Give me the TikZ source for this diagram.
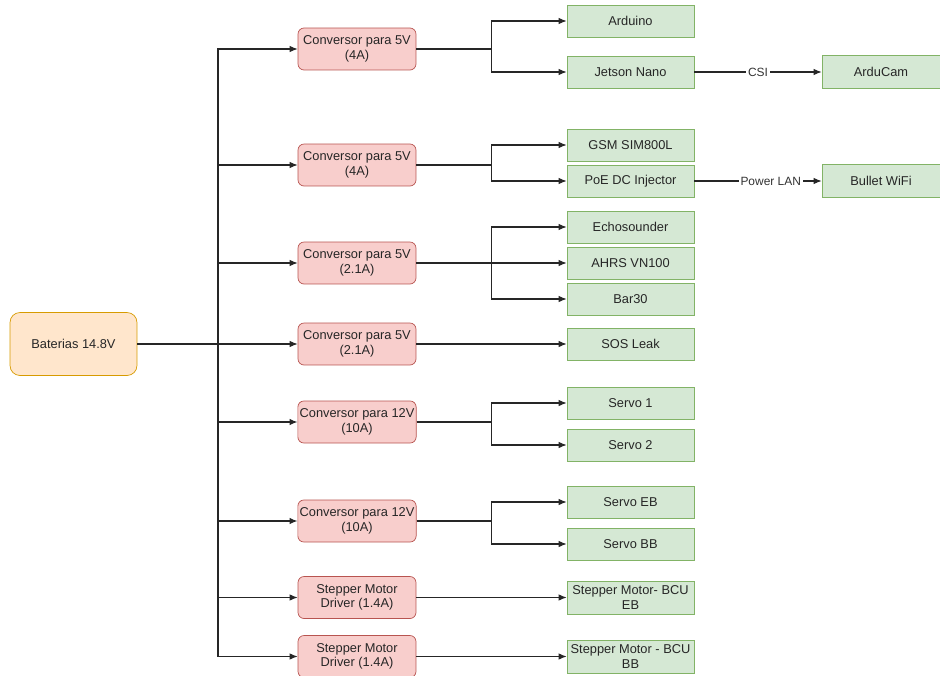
\documentclass[tikz,border=0pt]{standalone}
\usepackage{fontspec}
\setmainfont{Liberation Sans}
\usetikzlibrary{arrows.meta}
\definecolor{convfill}{HTML}{F8CECC}
\definecolor{convdraw}{HTML}{B85450}
\definecolor{loadfill}{HTML}{D5E8D4}
\definecolor{loaddraw}{HTML}{82B366}
\definecolor{battfill}{HTML}{FFE6CC}
\definecolor{battdraw}{HTML}{D79B00}
\tikzset{
  box/.style={draw, font=\fontsize{7.3}{8.3}\selectfont, align=center, inner sep=1pt, text=black!85},
  battbox/.style={box, fill=battfill, draw=battdraw, rounded corners=2mm,
                  minimum width=2.54cm, minimum height=1.26cm},
  convbox/.style={box, fill=convfill, draw=convdraw, rounded corners=1.2mm,
                  minimum width=2.36cm, minimum height=0.84cm},
  loadbox/.style={box, fill=loadfill, draw=loaddraw, minimum width=2.54cm, minimum height=0.64cm},
  farbox/.style={loadbox, minimum width=2.36cm, minimum height=0.66cm},
  wire/.style={line width=0.6pt, black!85},
  feed/.style={wire, -{Latex[length=1.6mm, width=1.3mm]}},
  wirelabel/.style={font=\fontsize{6.8}{7}\selectfont, fill=white, inner sep=1pt, text=black!80},
}

\begin{document}
\begin{tikzpicture}[x=0.02cm, y=-0.02cm]
    \useasboundingbox (0,0) rectangle (940,676);
    % source
    \node[battbox] (bat) at (73.5,344) {Baterias 14.8V};
    % converters
    \node[convbox] (c1) at (357,49) {Conversor para 5V\\(4A)};
    \node[convbox] (c2) at (357,165) {Conversor para 5V\\(4A)};
    \node[convbox] (c3) at (357,263) {Conversor para 5V\\(2.1A)};
    \node[convbox] (c4) at (357,344) {Conversor para 5V\\(2.1A)};
    \node[convbox] (c5) at (357,422) {Conversor para 12V\\(10A)};
    \node[convbox] (c6) at (357,521) {Conversor para 12V\\(10A)};
    \node[convbox] (c7) at (357,597.5) {Stepper Motor\\Driver (1.4A)};
    \node[convbox] (c8) at (357,656.5) {Stepper Motor\\Driver (1.4A)};
    % loads
    \node[loadbox] (ard) at (630.5,21) {Arduino};
    \node[loadbox] (jet) at (630.5,72) {Jetson Nano};
    \node[loadbox] (gsm) at (630.5,145) {GSM SIM800L};
    \node[loadbox] (poe) at (630.5,181) {PoE DC Injector};
    \node[loadbox] (echo) at (630.5,227) {Echosounder};
    \node[loadbox] (ahrs) at (630.5,263) {AHRS VN100};
    \node[loadbox] (bar) at (630.5,299) {Bar30};
    \node[loadbox] (sos) at (630.5,344) {SOS Leak};
    \node[loadbox] (sa) at (630.5,403) {Servo 1};
    \node[loadbox] (sb) at (630.5,445) {Servo 2};
    \node[loadbox] (seb) at (630.5,502) {Servo EB};
    \node[loadbox] (sbb) at (630.5,544) {Servo BB};
    \node[loadbox, minimum height=0.66cm] (smeb) at (630.5,597.5) {Stepper Motor- BCU\\EB};
    \node[loadbox, minimum height=0.66cm] (smbb) at (630.5,656.5) {Stepper Motor - BCU\\BB};
    \node[farbox] (cam) at (881,72) {ArduCam};
    \node[farbox] (wifi) at (881,181) {Bullet WiFi};

    % trunk from the batteries
    \coordinate (trunk) at (218,344);
    \draw[wire] (bat) -- (trunk);
    \draw[feed] (trunk) |- (c1.west);
    \draw[feed] (trunk) |- (c2.west);
    \draw[feed] (trunk) |- (c3.west);
    \draw[feed] (trunk) -- (c4.west);
    \draw[feed] (trunk) |- (c5.west);
    \draw[feed] (trunk) |- (c6.west);
    \draw[feed] (trunk) |- (c7.west);
    \draw[feed] (trunk) |- (c8.west);

    % converters to loads
    \draw[feed] (c1.east) -- ++(75,0) |- (ard.west);
    \draw[feed] (c1.east) -- ++(75,0) |- (jet.west);
    \draw[feed] (c2.east) -- ++(75,0) |- (gsm.west);
    \draw[feed] (c2.east) -- ++(75,0) |- (poe.west);
    \draw[feed] (c3.east) -- ++(75,0) |- (echo.west);
    \draw[feed] (c3.east) -- (ahrs.west);
    \draw[feed] (c3.east) -- ++(75,0) |- (bar.west);
    \draw[feed] (c4.east) -- (sos.west);
    \draw[feed] (c5.east) -- ++(75,0) |- (sa.west);
    \draw[feed] (c5.east) -- ++(75,0) |- (sb.west);
    \draw[feed] (c6.east) -- ++(75,0) |- (seb.west);
    \draw[feed] (c6.east) -- ++(75,0) |- (sbb.west);
    \draw[feed] (c7.east) -- (smeb.west);
    \draw[feed] (c8.east) -- (smbb.west);

    % links
    \draw[feed] (jet.east) -- node[wirelabel, pos=0.5] {CSI} (cam.west);
    \draw[feed] (poe.east) -- node[wirelabel, pos=0.6] {Power LAN} (wifi.west);
\end{tikzpicture}
\end{document}
